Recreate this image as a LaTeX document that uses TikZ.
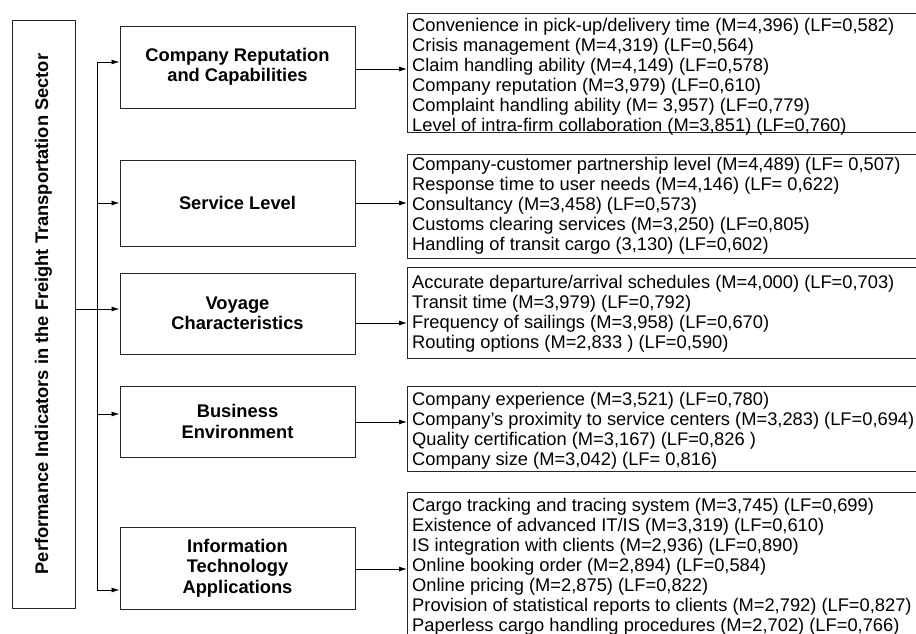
\documentclass[tikz,border=0pt]{standalone}
\usepackage{fontspec}
\setmainfont{Liberation Sans}
\usetikzlibrary{arrows.meta}
\begin{document}
\begin{tikzpicture}[x=1pt,y=-1pt,
  frame/.style={draw=black!85, line width=1pt, rectangle, inner sep=0pt},
  mainbox/.style={frame, minimum width=235pt, align=center, font=\bfseries\fontsize{18.3}{20.5}\selectfont},
  listbox/.style={frame, anchor=north west, minimum width=533pt},
  listtext/.style={anchor=base west, inner sep=0pt, font=\fontsize{18.3}{20}\selectfont},
  arr/.style={-{Latex[length=8pt,width=5pt]}, line width=0.9pt},
  conn/.style={line width=0.9pt}]
\useasboundingbox (0,0) rectangle (916,633);
\clip (0,0) rectangle (916,633);

% left box
\node[frame, minimum width=63pt, minimum height=588pt] (lb) at (43.5,314) {};
\node[rotate=90, inner sep=0pt, font=\bfseries\fontsize{18.3}{20}\selectfont] (lbt) at (43.5,314) {Performance Indicators in the Freight Transportation Sector};

% main boxes
\node[mainbox, minimum height=82pt] (crb) at (237.5,67) {Company Reputation\\and Capabilities};
\node[mainbox, minimum height=86pt] (sl) at (237.5,203) {Service Level};
\node[mainbox, minimum height=81pt] (vc) at (237.5,313.5) {Voyage\\Characteristics};
\node[mainbox, minimum height=71pt] (be) at (237.5,421.5) {Business\\Environment};
\node[mainbox, minimum height=82pt] (ita) at (237.5,568) {Information\\Technology\\Applications};

% list boxes
\node[listbox, minimum height=119pt] (b1) at (407,13) {};
\node[listbox, minimum height=104pt] (b2) at (407,154) {};
\node[listbox, minimum height=91pt] (b3) at (407,267) {};
\node[listbox, minimum height=85pt] (b4) at (407,386) {};
\node[listbox, minimum height=170pt] (b5) at (407,492) {};

\node[listtext] (t1) at (412,31) {\begin{tabular}[t]{@{}l@{}}
Convenience in pick-up/delivery time (M=4,396) (LF=0,582)\\
Crisis management (M=4,319) (LF=0,564)\\
Claim handling ability (M=4,149) (LF=0,578)\\
Company reputation (M=3,979) (LF=0,610)\\
Complaint handling ability (M= 3,957) (LF=0,779)\\
Level of intra-firm collaboration (M=3,851) (LF=0,760)
\end{tabular}};
\node[listtext] (t2) at (412,170) {\begin{tabular}[t]{@{}l@{}}
Company-customer partnership level (M=4,489) (LF= 0,507)\\
Response time to user needs (M=4,146) (LF= 0,622)\\
Consultancy (M=3,458) (LF=0,573)\\
Customs clearing services (M=3,250) (LF=0,805)\\
Handling of transit cargo (3,130) (LF=0,602)
\end{tabular}};
\node[listtext] (t3) at (412,288) {\begin{tabular}[t]{@{}l@{}}
Accurate departure/arrival schedules (M=4,000) (LF=0,703)\\
Transit time (M=3,979) (LF=0,792)\\
Frequency of sailings (M=3,958) (LF=0,670)\\
Routing options (M=2,833 ) (LF=0,590)
\end{tabular}};
\node[listtext] (t4) at (412,405) {\begin{tabular}[t]{@{}l@{}}
Company experience (M=3,521) (LF=0,780)\\
Company’s proximity to service centers (M=3,283) (LF=0,694)\\
Quality certification (M=3,167) (LF=0,826 )\\
Company size (M=3,042) (LF= 0,816)
\end{tabular}};
\node[listtext] (t5) at (412,511) {\begin{tabular}[t]{@{}l@{}}
Cargo tracking and tracing system (M=3,745) (LF=0,699)\\
Existence of advanced IT/IS (M=3,319) (LF=0,610)\\
IS integration with clients (M=2,936) (LF=0,890)\\
Online booking order (M=2,894) (LF=0,584)\\
Online pricing (M=2,875) (LF=0,822)\\
Provision of statistical reports to clients (M=2,792) (LF=0,827)\\
Paperless cargo handling procedures (M=2,702) (LF=0,766)
\end{tabular}};

% trunk and branches
\coordinate (ttop) at (97,62);
\coordinate (tbot) at (97,590);
\coordinate (vcin) at ([yshift=4.5pt]vc.west);
\coordinate (bein) at ([yshift=7.5pt]be.west);
\draw[conn] (ttop) -- (tbot);
\draw[arr] (ttop) -- (crb.west |- ttop);
\draw[arr] (ttop |- sl.west) -- (sl.west);
\draw[arr] (lb.east |- vcin) -- (vcin);
\draw[arr] (ttop |- bein) -- (bein);
\draw[arr] (tbot) -- (ita.west |- tbot);

% outputs
\coordinate (o1) at ([yshift=-2pt]crb.east);
\coordinate (o2) at (sl.east);
\coordinate (o3) at ([yshift=-9.5pt]vc.east);
\coordinate (o4) at ([yshift=-0.5pt]be.east);
\coordinate (o5) at ([yshift=-1pt]ita.east);
\draw[arr] (o1) -- (o1 -| b1.west);
\draw[arr] (o2) -- (o2 -| b2.west);
\draw[arr] (o3) -- (o3 -| b3.west);
\draw[arr] (o4) -- (o4 -| b4.west);
\draw[arr] (o5) -- (o5 -| b5.west);
\end{tikzpicture}
\end{document}
